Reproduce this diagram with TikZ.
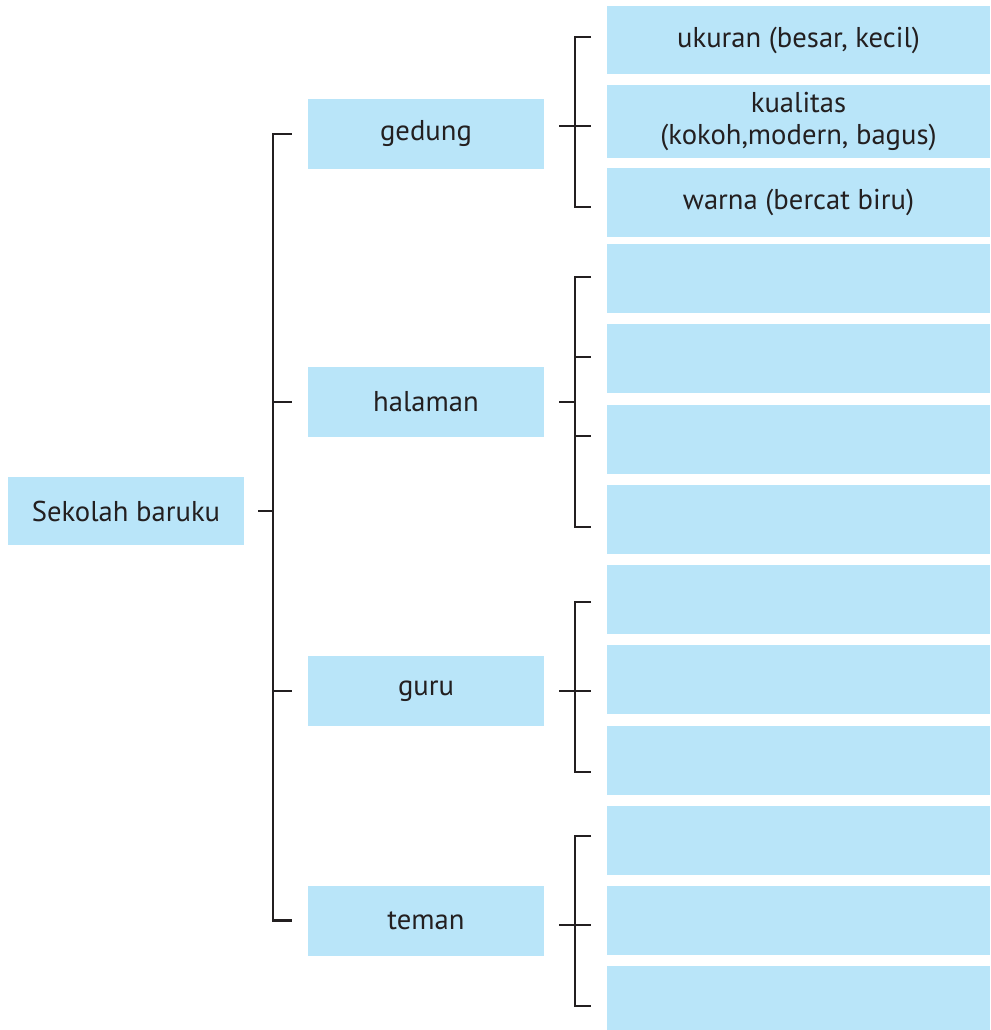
\documentclass[tikz,border=0pt]{standalone}
\usepackage{fontspec}
\setmainfont{PT Sans}
\usetikzlibrary{calc}
\definecolor{boxblue}{HTML}{B9E5F9}
\definecolor{ink}{HTML}{231F20}
\tikzset{
  box/.style={fill=boxblue, text=ink, inner sep=0pt, align=center,
    font=\fontsize{16.3}{17.8}\selectfont},
  rootbox/.style={box, minimum width=4.72cm, minimum height=1.38cm},
  midbox/.style={box, minimum width=4.72cm, minimum height=1.4cm},
  leafbox/.style={box, minimum width=7.66cm, minimum height=1.38cm},
  link/.style={draw=ink, line width=1.5pt}
}
\begin{document}
\begin{tikzpicture}[x=0.02cm, y=-0.02cm]
    \useasboundingbox (0,0) rectangle (990,1030);

    % Root
    \node[rootbox] (root) at (126,511) {Sekolah baruku};

    % Main branches
    \node[midbox] (gedung) at (426,134) {gedung};
    \node[midbox] (halaman) at (426,402) {halaman};
    \node[midbox] (guru) at (426,691) {guru};
    \node[midbox] (teman) at (426,920.5) {teman};

    % Leaves
    \node[leafbox] (leaf1) at (798.5,40) {ukuran (besar, kecil)};
    \node[leafbox, minimum height=1.46cm] (leaf2) at (798.5,121.5) {kualitas\\(kokoh,modern, bagus)};
    \node[leafbox] (leaf3) at (798.5,202.5) {warna (bercat biru)};
    \foreach \y [count=\i from 4] in {278.5,358.5,439.5,519.5,599.5,679.5,760.5,840.5,920.5,1000.5} {
        \node[leafbox] (leaf\i) at (798.5,\y) {};
    }

    % Trunk
    \coordinate (trunk) at (273,511);
    \draw[link] ($(root.east)+(14,0)$) -- (trunk);
    \draw[link] ($(gedung.west)+(-16,0)$) -- (trunk |- gedung) -- (trunk |- teman) -- ($(teman.west)+(-16,0)$);
    \foreach \m in {halaman,guru} {
        \draw[link] (trunk |- \m) -- ($(\m.west)+(-16,0)$);
    }

    % Brackets
    \foreach \top/\bot/\mid in {37/207/126,277/527/402,602/772/691,836/1006/925} {
        \draw[link] (591,\top) -- (575,\top) -- (575,\bot) -- (591,\bot);
        \draw[link] (559,\mid) -- (575,\mid);
    }
    \foreach \y in {126,357,436,691,925} {
        \draw[link] (575,\y) -- (591,\y);
    }
\end{tikzpicture}
\end{document}
